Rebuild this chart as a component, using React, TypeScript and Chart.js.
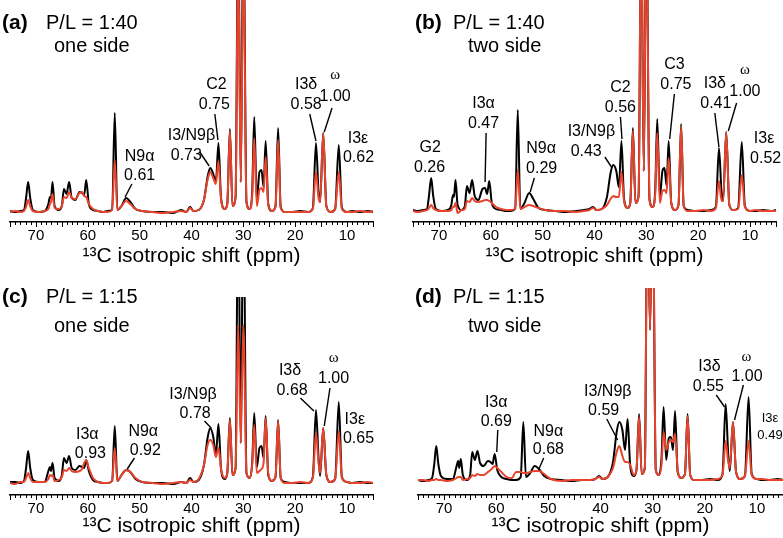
import React, { useEffect, useRef } from 'react';
import { Chart, registerables } from 'chart.js';

Chart.register(...registerables);

// Chemical shift grid (ppm), shared by all spectra
const PPM = [
  75.0, 74.0, 73.0, 72.3, 71.9, 71.5, 71.1, 70.6, 69.5, 68.3,
  67.6, 67.3, 67.1, 66.8, 66.4, 65.6, 65.0, 64.6, 64.1, 63.6,
  63.1, 62.4, 61.6, 61.1, 60.7, 60.3, 59.8, 59.0, 58.0, 57.0,
  56.2, 55.3, 54.8, 54.3, 53.5, 52.6, 51.8, 50.8, 49.5, 47.5,
  45.5, 43.5, 42.0, 41.0, 40.3, 39.6, 38.6, 37.6, 36.9, 36.4,
  35.8, 35.3, 34.8, 34.3, 33.6, 33.1, 32.6, 32.1, 31.5, 31.0,
  30.5, 30.0, 29.4, 28.8, 28.3, 27.9, 27.4, 26.9, 26.5, 26.1,
  25.7, 25.2, 24.5, 23.8, 23.3, 22.8, 22.0, 20.5, 19.0, 17.5,
  16.6, 16.0, 15.5, 15.2, 14.6, 14.0, 13.2, 12.3, 11.6, 11.0,
  10.0, 9.0, 7.5, 6.0, 5.0,
];

// (a) P/L = 1:40, one side
const A_BLACK = [
  1, 0, 1, 2, 14, 30, 14, 2, 0, 1,
  8, 15, 14, 30, 6, 2, 6, 23, 18, 30,
  14, 12, 20, 19, 17, 32, 8, 2, 1, 0,
  1, 2, 99, 2, 6, 14, 10, 3, 1, 0,
  0, -1, 2, 0, 5, 1, 2, 12, 35, 44,
  38, 30, 69, 14, 3, 8, 83, 6, 15, 300,
  30, 300, 10, 3, 20, 95, 12, 40, 42, 25,
  71, 8, 1, 6, 84, 5, 0, 0, 1, 0,
  4, 69, 20, 10, 79, 6, 0, 3, 67, 4,
  0, 1, 0, 1, 0,
];
const A_RED = [
  0, 1, 0, 1, 5, 12, 6, 1, 0, 1,
  3, 8, 10, 18, 4, 3, 6, 15, 14, 20,
  14, 13, 19, 20, 16, 15, 8, 3, 1, 0,
  0, 2, 52, 2, 6, 11, 8, 3, 1, 0,
  -1, 0, 1, 0, 4, 1, 2, 12, 32, 40,
  34, 28, 51, 12, 3, 8, 81, 6, 15, 260,
  30, 260, 10, 3, 16, 74, 6, 22, 24, 20,
  55, 7, 1, 5, 72, 4, 0, 0, 0, 0,
  3, 40, 14, 10, 79, 6, 0, 3, 40, 3,
  0, 0, 1, 0, 1,
];

// (b) P/L = 1:40, two side
const B_BLACK = [
  1, 0, 1, 2, 16, 33, 15, 2, 0, 1,
  6, 16, 14, 31, 6, 1, 5, 25, 18, 31,
  15, 11, 22, 23, 17, 30, 8, 2, 1, 0,
  0, 2, 101, 2, 8, 18, 12, 3, 1, 0,
  -1, 0, 1, 2, 4, 1, 2, 14, 38, 46,
  40, 24, 70, 12, 3, 8, 83, 8, 15, 300,
  40, 300, 12, 4, 20, 92, 14, 40, 43, 25,
  70, 8, 1, 6, 87, 5, 1, 0, 0, 1,
  4, 63, 18, 10, 79, 6, 1, 3, 69, 5,
  0, 0, 1, 0, 1,
];
const B_RED = [
  0, -1, 0, 1, 3, 6, 3, 1, 0, 0,
  1, 4, 4, 8, -2, 1, 2, 10, 9, 13,
  10, 9, 10, 11, 11, 10, 8, 4, 2, 1,
  1, 2, 41, 2, 4, 6, 5, 3, 1, 0,
  0, -1, 0, 1, 3, 1, 2, 6, 12, 15,
  14, 14, 39, 10, 3, 8, 80, 8, 15, 300,
  40, 300, 12, 4, 16, 78, 8, 20, 21, 18,
  53, 8, 1, 6, 85, 5, 0, 0, 1, 0,
  3, 30, 10, 10, 79, 6, 1, 2, 36, 4,
  0, 1, 0, 0, 0,
];

// (c) P/L = 1:15, one side
const C_BLACK = [
  1, 1, 0, 2, 15, 32, 15, 3, 1, 1,
  12, 16, 12, 20, 5, 2, 8, 25, 20, 27,
  15, 13, 17, 16, 15, 23, 12, 3, 1, 0,
  0, 2, 57, 2, 8, 13, 11, 4, 1, 0,
  0, -1, 1, 0, 5, 1, 3, 18, 45, 55,
  46, 28, 59, 14, 4, 10, 65, 8, 15, 300,
  40, 300, 10, 5, 20, 70, 16, 35, 37, 25,
  67, 8, 2, 6, 63, 5, 1, 0, 0, 0,
  6, 73, 25, 7, 55, 8, 1, 4, 81, 6,
  1, 0, 1, 0, 0,
];
const C_RED = [
  0, -1, 1, 1, 5, 10, 5, 1, 1, 1,
  4, 8, 7, 8, 2, 3, 6, 13, 12, 15,
  12, 11, 12, 14, 20, 23, 15, 5, 1, 0,
  0, 2, 35, 2, 8, 13, 11, 5, 1, 0,
  -1, 0, 1, 0, 3, 1, 4, 18, 38, 43,
  38, 26, 35, 14, 5, 10, 63, 8, 15, 158,
  40, 158, 10, 5, 18, 58, 10, 12, 14, 20,
  65, 10, 2, 6, 62, 5, 0, 0, 1, 0,
  5, 50, 20, 10, 55, 8, 1, 4, 52, 5,
  1, 0, 0, 1, 0,
];

// (d) P/L = 1:15, two side
const D_BLACK = [
  0, -1, 0, 2, 15, 34, 16, 4, 1, 1,
  14, 19, 12, 21, 5, 0, 5, 28, 20, 29,
  17, 14, 19, 18, 16, 26, 10, 3, 1, 0,
  0, 3, 58, 3, 7, 14, 11, 4, 1, 0,
  -1, 0, 0, 1, 4, 1, 3, 18, 48, 58,
  50, 30, 61, 14, 4, 10, 66, 6, 12, 300,
  150, 300, 10, 5, 22, 73, 20, 42, 43, 30,
  69, 8, 2, 6, 66, 5, 0, 0, 1, 0,
  6, 76, 25, 9, 58, 8, 1, 4, 83, 6,
  1, 0, 0, 1, 0,
];
const D_RED = [
  0, 0, -1, 0, 0, 1, 0, 0, -1, 0,
  2, 3, 3, 3, 0, 1, 2, 5, 4, 6,
  5, 5, 8, 10, 12, 14, 12, 8, 3, 2,
  8, 8, 7, 7, 8, 9, 9, 6, 1, -1,
  0, 0, 0, 1, 3, 1, 3, 12, 28, 34,
  24, 18, 18, 15, 5, 10, 63, 6, 12, 300,
  150, 300, 10, 5, 15, 48, 30, 38, 40, 38,
  46, 10, 2, 6, 64, 5, 0, 0, 0, 1,
  5, 39, 18, 12, 58, 8, 1, 4, 39, 5,
  1, 1, 0, 0, 0,
];

const TICK_VALUES = [70, 60, 50, 40, 30, 20, 10];
const X_TITLE = '¹³C isotropic shift (ppm)';

// Peak annotations: [text, ppm, intensity, style]
const A_TEXTS = [
  ['N9α', 50.0, 55, ''], ['0.61', 50.0, 36, ''],
  ['I3/N9β', 40.0, 76, ''], ['0.73', 41.0, 56, ''],
  ['C2', 35.2, 127, ''], ['0.75', 35.6, 107, ''],
  ['I3δ', 17.9, 127, ''], ['0.58', 17.9, 107, ''],
  ['ω', 12.3, 137, 'omega'], ['1.00', 12.3, 115, ''],
  ['I3ε', 7.9, 73, ''], ['0.62', 7.8, 54, ''],
];
const A_LEADERS = [
  [51.5, 28, 52.8, 15], [38.4, 60, 36.6, 46], [35.5, 98, 34.9, 72],
  [17.2, 98, 16.0, 71], [12.9, 104, 14.4, 80],
];
const B_TEXTS = [
  ['G2', 71.7, 63, ''], ['0.26', 71.8, 43, ''],
  ['I3α', 61.4, 107, ''], ['0.47', 61.4, 87, ''],
  ['N9α', 50.3, 62, ''], ['0.29', 50.2, 42, ''],
  ['I3/N9β', 40.6, 79, ''], ['0.43', 41.6, 59, ''],
  ['C2', 35.0, 123, ''], ['0.56', 35.0, 103, ''],
  ['C3', 24.6, 146, ''], ['0.75', 24.3, 126, ''],
  ['I3δ', 16.8, 127, ''], ['0.41', 16.6, 107, ''],
  ['ω', 11.0, 141, 'omega'], ['1.00', 11.0, 119, ''],
  ['I3ε', 7.3, 72, ''], ['0.52', 7.0, 52, ''],
];
const B_LEADERS = [
  [60.9, 78, 61.1, 29], [51.6, 33, 52.4, 19], [38.0, 54, 36.6, 43],
  [35.0, 94, 34.7, 72], [24.6, 117, 25.5, 72], [16.8, 98, 16.0, 64],
  [12.6, 108, 14.2, 80],
];
const C_TEXTS = [
  ['I3α', 60.1, 48, ''], ['0.93', 59.5, 29, ''],
  ['N9α', 49.3, 51, ''], ['0.92', 48.9, 32, ''],
  ['I3/N9β', 39.7, 88, ''], ['0.78', 39.3, 69, ''],
  ['I3δ', 21.0, 112, ''], ['0.68', 20.6, 92, ''],
  ['ω', 12.6, 125, 'omega'], ['1.00', 12.6, 104, ''],
  ['I3ε', 8.5, 63, ''], ['0.65', 7.8, 44, ''],
];
const C_LEADERS = [
  [51.0, 25, 52.4, 14], [37.5, 62, 36.2, 55], [19.0, 85, 16.4, 72],
  [13.3, 95, 14.4, 57],
];
const D_TEXTS = [
  ['I3α', 60.0, 77, ''], ['0.69', 60.0, 58, ''],
  ['N9α', 50.0, 48, ''], ['0.68', 50.0, 30, ''],
  ['I3/N9β', 38.6, 88, ''], ['0.59', 39.4, 69, ''],
  ['I3δ', 19.1, 113, ''], ['0.55', 19.3, 93, ''],
  ['ω', 12.0, 123, 'omega'], ['1.00', 11.9, 103, ''],
  ['I3ε', 7.5, 62, 'small'], ['0.49', 7.5, 45, 'small'],
];
const D_LEADERS = [
  [59.7, 50, 59.9, 28], [50.9, 22, 51.9, 10], [38.8, 61, 36.7, 40],
  [17.8, 85, 16.2, 73], [12.6, 95, 14.3, 60],
];

const FONT = '"Liberation Sans", Arial, Helvetica, sans-serif';
const RED = '#e8432d';

const PANELS = [
  {
    key: 'a', left: 0, top: 0, width: 390, height: 268,
    padL: 10, padR: 17, padT: 0, axisH: 46, yMin: -10, yMax: 212,
    black: A_BLACK, red: A_RED, texts: A_TEXTS, leaders: A_LEADERS,
    tag: '(a)', ratio: 'P/L = 1:40', side: 'one side',
    tagX: 2, ratioX: 46, sideX: 54, row1Y: 23, row2Y: 46,
  },
  {
    key: 'b', left: 390, top: 0, width: 393, height: 268,
    padL: 23, padR: 7, padT: 0, axisH: 46, yMin: -11, yMax: 211,
    black: B_BLACK, red: B_RED, texts: B_TEXTS, leaders: B_LEADERS,
    tag: '(b)', ratio: 'P/L = 1:40', side: 'two side',
    tagX: 25, ratioX: 63, sideX: 78, row1Y: 23, row2Y: 46,
  },
  {
    key: 'c', left: 0, top: 270, width: 390, height: 268,
    padL: 10, padR: 17, padT: 27, axisH: 43, yMin: -12, yMax: 186,
    black: C_BLACK, red: C_RED, texts: C_TEXTS, leaders: C_LEADERS,
    tag: '(c)', ratio: 'P/L = 1:15', side: 'one side',
    tagX: 2, ratioX: 46, sideX: 54, row1Y: 27, row2Y: 56,
  },
  {
    key: 'd', left: 390, top: 270, width: 393, height: 268,
    padL: 28, padR: 0, padT: 18, axisH: 43, yMin: -15, yMax: 192,
    black: D_BLACK, red: D_RED, texts: D_TEXTS, leaders: D_LEADERS,
    tag: '(d)', ratio: 'P/L = 1:15', side: 'two side',
    tagX: 25, ratioX: 63, sideX: 78, row1Y: 27, row2Y: 56,
  },
];

function decorPlugin(panel: any) {
  return {
    id: 'decor_' + panel.key,
    afterDraw(chart: any) {
      const { ctx, chartArea } = chart;
      const xs = chart.scales.x;
      const ys = chart.scales.y;
      ctx.save();
      // minor / major tick marks hanging below the axis line
      ctx.strokeStyle = '#000';
      ctx.lineWidth = 1;
      for (let p = 5; p <= 75; p++) {
        const x = Math.round(xs.getPixelForValue(p)) + 0.5;
        const len = p % 5 === 0 ? 5 : 3;
        ctx.beginPath();
        ctx.moveTo(x, chartArea.bottom);
        ctx.lineTo(x, chartArea.bottom + len);
        ctx.stroke();
      }
      // leader lines
      ctx.lineWidth = 1.4;
      for (const [p1, v1, p2, v2] of panel.leaders) {
        ctx.beginPath();
        ctx.moveTo(xs.getPixelForValue(p1), ys.getPixelForValue(v1));
        ctx.lineTo(xs.getPixelForValue(p2), ys.getPixelForValue(v2));
        ctx.stroke();
      }
      // peak labels
      ctx.fillStyle = '#000';
      ctx.textAlign = 'center';
      ctx.textBaseline = 'middle';
      for (const [text, ppm, v, style] of panel.texts) {
        ctx.font = style === 'omega'
          ? '15px "Liberation Serif", "DejaVu Serif", serif'
          : style === 'small' ? `13px ${FONT}` : `16px ${FONT}`;
        ctx.fillText(text, xs.getPixelForValue(ppm), ys.getPixelForValue(v));
      }
      // panel heading
      ctx.textAlign = 'left';
      ctx.font = `bold 21px ${FONT}`;
      ctx.fillText(panel.tag, panel.tagX, panel.row1Y);
      ctx.font = `20px ${FONT}`;
      ctx.fillText(panel.ratio, panel.ratioX, panel.row1Y);
      ctx.fillText(panel.side, panel.sideX, panel.row2Y);
      ctx.restore();
    },
  };
}

function Panel({ panel }: { panel: any }) {
  const ref = useRef<HTMLCanvasElement | null>(null);
  useEffect(() => {
    if (!ref.current) return;
    const chart = new Chart(ref.current, {
      type: 'line',
      data: {
        datasets: [
          {
            data: PPM.map((p, i) => ({ x: p, y: panel.red[i] })),
            borderColor: RED,
            borderWidth: 2,
            pointRadius: 0,
            cubicInterpolationMode: 'monotone',
            fill: false,
          },
          {
            data: PPM.map((p, i) => ({ x: p, y: panel.black[i] })),
            borderColor: '#000',
            borderWidth: 2,
            pointRadius: 0,
            cubicInterpolationMode: 'monotone',
            fill: false,
          },
        ],
      },
      options: {
        responsive: false,
        animation: false,
        devicePixelRatio: 1,
        layout: { padding: { left: panel.padL, right: panel.padR, top: panel.padT, bottom: 0 } },
        plugins: { legend: { display: false }, tooltip: { enabled: false } },
        events: [],
        scales: {
          x: {
            type: 'linear',
            reverse: true,
            min: 5,
            max: 75,
            position: 'bottom',
            afterBuildTicks: (s: any) => { s.ticks = TICK_VALUES.map((v) => ({ value: v })); },
            afterFit: (s: any) => { s.height = panel.axisH; },
            grid: { display: false, drawTicks: false },
            border: { display: true, color: '#000', width: 1.6 },
            ticks: {
              autoSkip: false,
              maxRotation: 0,
              minRotation: 0,
              padding: 5,
              color: '#000',
              font: { family: FONT, size: 15 },
              callback: (v: any) => String(v),
            },
            title: {
              display: true,
              text: X_TITLE,
              color: '#000',
              font: { family: FONT, size: 21 },
              padding: { top: 0, bottom: -1 },
            },
          },
          y: { type: 'linear', display: false, min: panel.yMin, max: panel.yMax },
        },
      } as any,
      plugins: [decorPlugin(panel)],
    });
    return () => chart.destroy();
  }, [panel]);
  return (
    <canvas
      ref={ref}
      width={panel.width}
      height={panel.height}
      style={{ position: 'absolute', left: panel.left, top: panel.top, width: panel.width, height: panel.height }}
    />
  );
}

export default function App() {
  return (
    <div style={{ position: 'absolute', left: 0, top: 0, width: 783, height: 538, background: '#fff', overflow: 'hidden' }}>
      {PANELS.map((p) => <Panel key={p.key} panel={p} />)}
    </div>
  );
}
